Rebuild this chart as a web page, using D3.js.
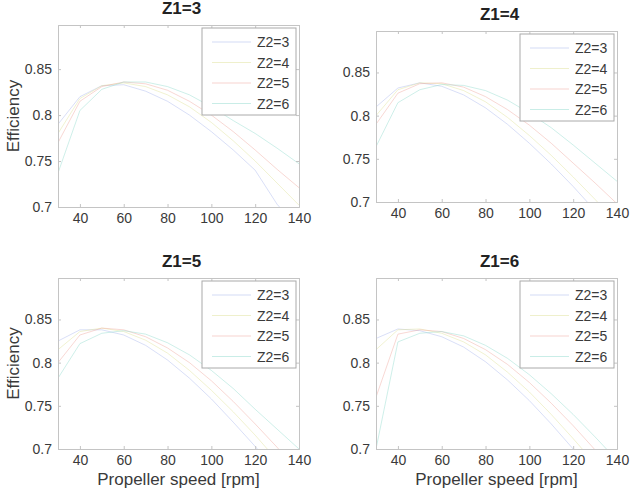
<!DOCTYPE html>
<html>
<head>
<meta charset="utf-8">
<script src="https://cdn.jsdelivr.net/npm/d3@7"></script>
<style>
  body { margin: 0; background: #fff; }
  text { font-family: "Liberation Sans", Arial, sans-serif; }
</style>
</head>
<body>
<svg id="chart" width="633" height="491"></svg>
<script>
// propeller speed samples [rpm]
const speeds = [30, 40, 50, 60, 70, 80, 90, 100, 110, 120, 130, 140];
const seriesNames = ["Z2=3", "Z2=4", "Z2=5", "Z2=6"];
const panelTitles = ["Z1=3", "Z1=4", "Z1=5", "Z1=6"];
const xTicks = [40, 60, 80, 100, 120, 140];
const yTicks = [0.7, 0.75, 0.8, 0.85];

// efficiency per panel, one row per Z2
const effZ1_3 = [
  [0.790, 0.820, 0.832, 0.833, 0.826, 0.815, 0.800, 0.782, 0.762, 0.740, 0.703, 0.676],
  [0.780, 0.818, 0.832, 0.835, 0.831, 0.822, 0.809, 0.792, 0.772, 0.750, 0.726, 0.702],
  [0.770, 0.815, 0.831, 0.836, 0.834, 0.827, 0.815, 0.800, 0.782, 0.762, 0.741, 0.721],
  [0.737, 0.805, 0.828, 0.836, 0.836, 0.831, 0.822, 0.809, 0.794, 0.780, 0.764, 0.747]
];
const effZ1_4 = [
  [0.810, 0.832, 0.838, 0.834, 0.824, 0.809, 0.790, 0.768, 0.744, 0.718, 0.690, 0.662],
  [0.800, 0.830, 0.838, 0.837, 0.829, 0.816, 0.798, 0.777, 0.754, 0.729, 0.703, 0.676],
  [0.790, 0.826, 0.837, 0.838, 0.833, 0.822, 0.807, 0.789, 0.768, 0.745, 0.722, 0.698],
  [0.764, 0.815, 0.830, 0.836, 0.835, 0.829, 0.818, 0.803, 0.786, 0.766, 0.745, 0.724]
];
const effZ1_5 = [
  [0.825, 0.838, 0.838, 0.832, 0.820, 0.803, 0.782, 0.758, 0.731, 0.703, 0.673, 0.643],
  [0.815, 0.836, 0.840, 0.836, 0.826, 0.811, 0.791, 0.768, 0.743, 0.716, 0.687, 0.657],
  [0.800, 0.832, 0.840, 0.838, 0.830, 0.817, 0.800, 0.779, 0.755, 0.729, 0.702, 0.673],
  [0.782, 0.822, 0.834, 0.837, 0.833, 0.823, 0.809, 0.791, 0.770, 0.746, 0.723, 0.700]
];
const effZ1_6 = [
  [0.828, 0.839, 0.837, 0.830, 0.818, 0.801, 0.780, 0.756, 0.729, 0.700, 0.670, 0.640],
  [0.815, 0.838, 0.839, 0.834, 0.824, 0.809, 0.789, 0.766, 0.740, 0.712, 0.683, 0.653],
  [0.760, 0.833, 0.838, 0.836, 0.828, 0.815, 0.798, 0.777, 0.753, 0.727, 0.699, 0.670],
  [0.700, 0.824, 0.834, 0.836, 0.831, 0.820, 0.805, 0.786, 0.764, 0.740, 0.714, 0.687]
];
const panelData = [effZ1_3, effZ1_4, effZ1_5, effZ1_6];

const colors = ["#aab8ee", "#dfe29a", "#f0a8a0", "#93dccf"];

const boxes = [
  { x0: 58,  x1: 299, y0: 25,  y1: 207, ylab: true,  xlab: false },
  { x0: 376, x1: 617, y0: 31,  y1: 202, ylab: false, xlab: false },
  { x0: 58,  x1: 299, y0: 278, y1: 449, ylab: true,  xlab: true },
  { x0: 376, x1: 617, y0: 278, y1: 449, ylab: false, xlab: true }
];

const svg = d3.select("#chart");
const axisGray = "#c4c4c4";
const textCol = "#3a3a3a";

boxes.forEach((b, p) => {
  const x = d3.scaleLinear().domain([30, 140]).range([b.x0, b.x1]);
  const y = d3.scaleLinear().domain([0.7, 0.898]).range([b.y1, b.y0]);
  const g = svg.append("g");

  g.append("clipPath").attr("id", "clip" + p)
    .append("rect")
    .attr("x", b.x0).attr("y", b.y0)
    .attr("width", b.x1 - b.x0).attr("height", b.y1 - b.y0);

  // curves (very faint in the original)
  const line = d3.line().x((d, i) => x(speeds[i])).y(d => y(d));
  g.append("g").attr("clip-path", `url(#clip${p})`)
    .selectAll("path")
    .data(panelData[p])
    .join("path")
    .attr("d", line)
    .attr("fill", "none")
    .attr("stroke", (d, i) => colors[i])
    .attr("stroke-opacity", 0.5)
    .attr("stroke-width", 0.9);

  // axes (ticks pointing inward, box style)
  const bottom = g.append("g").attr("transform", `translate(0,${b.y1})`)
    .call(d3.axisBottom(x).tickValues(xTicks).tickSize(-3).tickPadding(6));
  const top = g.append("g").attr("transform", `translate(0,${b.y0})`)
    .call(d3.axisTop(x).tickValues(xTicks).tickSize(-3).tickFormat(""));
  const left = g.append("g").attr("transform", `translate(${b.x0},0)`)
    .call(d3.axisLeft(y).tickValues(yTicks).tickSize(-3).tickPadding(6)
      .tickFormat(d => d3.format("")(+d.toFixed(2))));
  const right = g.append("g").attr("transform", `translate(${b.x1},0)`)
    .call(d3.axisRight(y).tickValues(yTicks).tickSize(-3).tickFormat(""));

  [bottom, top, left, right].forEach(a => {
    a.select(".domain").attr("stroke", axisGray);
    a.selectAll(".tick line").attr("stroke", axisGray);
    a.selectAll(".tick text").attr("fill", textCol).style("font-size", "14px");
  });

  // title
  g.append("text")
    .attr("x", (b.x0 + b.x1) / 2 + 3)
    .attr("y", b.y0 - 11)
    .attr("text-anchor", "middle")
    .style("font-size", "17px").style("font-weight", "bold")
    .attr("fill", "#222")
    .text(panelTitles[p]);

  if (b.ylab) {
    g.append("text")
      .attr("transform", `translate(19,${(b.y0 + b.y1) / 2}) rotate(-90)`)
      .attr("text-anchor", "middle")
      .style("font-size", "17px").attr("fill", textCol)
      .text("Efficiency");
  }
  if (b.xlab) {
    g.append("text")
      .attr("x", (b.x0 + b.x1) / 2).attr("y", b.y1 + 36)
      .attr("text-anchor", "middle")
      .style("font-size", "17px").attr("fill", textCol)
      .text("Propeller speed [rpm]");
  }

  // legend
  const lw = 94, lh = 87;
  const lx = b.x1 - 3 - lw, ly = b.y0 + 3;
  const leg = g.append("g").attr("transform", `translate(${lx},${ly})`);
  leg.append("rect").attr("width", lw).attr("height", lh)
    .attr("fill", "#fff").attr("stroke", "#aaa").attr("stroke-width", 1);
  seriesNames.forEach((name, i) => {
    const yy = 14 + i * 20.5;
    leg.append("line").attr("x1", 10).attr("x2", 49).attr("y1", yy).attr("y2", yy)
      .attr("stroke", colors[i]).attr("stroke-opacity", 0.5).attr("stroke-width", 1);
    leg.append("text").attr("x", 55).attr("y", yy + 5)
      .style("font-size", "14px").attr("fill", textCol).text(name);
  });
});
</script>
</body>
</html>
